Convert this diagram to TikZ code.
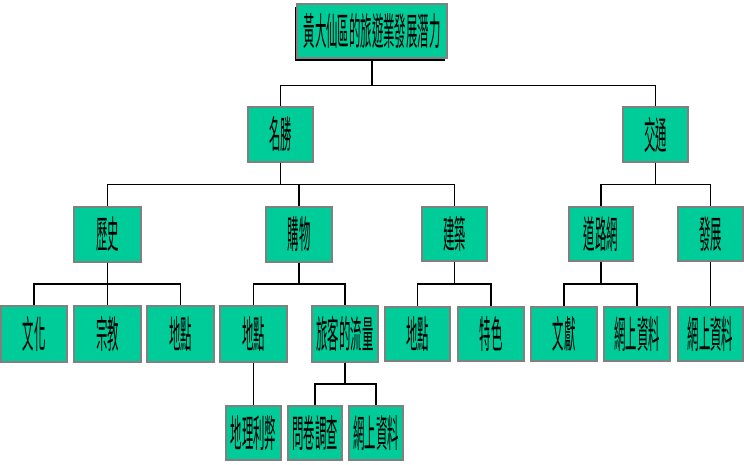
\documentclass[tikz,border=0pt]{standalone}
\usepackage{fontspec}
\usepackage{graphicx}
\newfontfamily\cjk{Noto Sans CJK TC}
\usetikzlibrary{calc,shadows}
\definecolor{boxfill}{HTML}{00CC99}
\definecolor{boxline}{HTML}{808080}
\newcommand{\tx}[1]{\scalebox{0.3}[1]{\cjk\fontsize{38}{38}\selectfont #1}}
\newcommand{\conn}[2]{\draw[link] (#1.south) |- ($(#1.south)!.5!(#2.north)$) -| (#2.north);}
\begin{document}
\begin{tikzpicture}[x=1pt,y=-1pt,
  box/.style={draw=boxline, line width=1.4pt, fill=boxfill, inner sep=0pt, text=black},
  link/.style={draw=black, line width=1.1pt}]
\useasboundingbox (0,0) rectangle (744,464);
% root
\node[box, minimum width=150pt, minimum height=54pt, drop shadow={shadow xshift=-2pt, shadow yshift=-3pt, fill=black, opacity=1}] (root) at (372,31) {\tx{黃大仙區的旅遊業發展潛力}};
\node[box, minimum width=65pt, minimum height=55pt] (ms) at (280.5,134.5) {\tx{名勝}};
\node[box, minimum width=65pt, minimum height=55pt] (jt) at (655.5,134.5) {\tx{交通}};
\node[box, minimum width=67pt, minimum height=55pt] (ls) at (107.5,234.5) {\tx{歷史}};
\node[box, minimum width=66pt, minimum height=55pt] (gw) at (299,234.5) {\tx{購物}};
\node[box, minimum width=65pt, minimum height=54pt] (jz) at (454.5,234) {\tx{建築}};
\node[box, minimum width=64pt, minimum height=54pt] (dl) at (601,234) {\tx{道路網}};
\node[box, minimum width=65pt, minimum height=54pt] (fz) at (710.5,234) {\tx{發展}};
\node[box, minimum width=66pt, minimum height=56pt] (wh) at (34,334) {\tx{文化}};
\node[box, minimum width=67pt, minimum height=56pt] (zj) at (107.5,334) {\tx{宗教}};
\node[box, minimum width=67pt, minimum height=56pt] (dd1) at (180.5,334) {\tx{地點}};
\node[box, minimum width=67pt, minimum height=56pt] (dd2) at (253.5,334) {\tx{地點}};
\node[box, minimum width=66pt, minimum height=56pt] (lk) at (345,334) {\tx{旅客的流量}};
\node[box, minimum width=65pt, minimum height=54pt] (dd3) at (417.5,334) {\tx{地點}};
\node[box, minimum width=66pt, minimum height=54pt] (ts) at (491,334) {\tx{特色}};
\node[box, minimum width=66pt, minimum height=54pt] (wx) at (564,334) {\tx{文獻}};
\node[box, minimum width=66pt, minimum height=54pt] (ws1) at (637,334) {\tx{網上資料}};
\node[box, minimum width=65pt, minimum height=54pt] (ws2) at (710.5,334) {\tx{網上資料}};
\node[box, minimum width=55pt, minimum height=54pt] (dlb) at (253.5,433) {\tx{地理利弊}};
\node[box, minimum width=54pt, minimum height=54pt] (wj) at (315,433) {\tx{問卷調查}};
\node[box, minimum width=54pt, minimum height=54pt] (ws3) at (376,433) {\tx{網上資料}};
% connectors
\draw[link] (root.south) -- ++(0,27) coordinate (rb);
\draw[link] (ms.north) |- (rb) -| (jt.north);
\conn{ms}{ls}\conn{ms}{gw}\conn{ms}{jz}
\conn{jt}{dl}\conn{jt}{fz}
\conn{ls}{wh}\conn{ls}{zj}\conn{ls}{dd1}
\conn{gw}{dd2}\conn{gw}{lk}
\conn{jz}{dd3}\conn{jz}{ts}
\conn{dl}{wx}\conn{dl}{ws1}
\conn{fz}{ws2}
\conn{dd2}{dlb}
\conn{lk}{wj}\conn{lk}{ws3}
\end{tikzpicture}
\end{document}
